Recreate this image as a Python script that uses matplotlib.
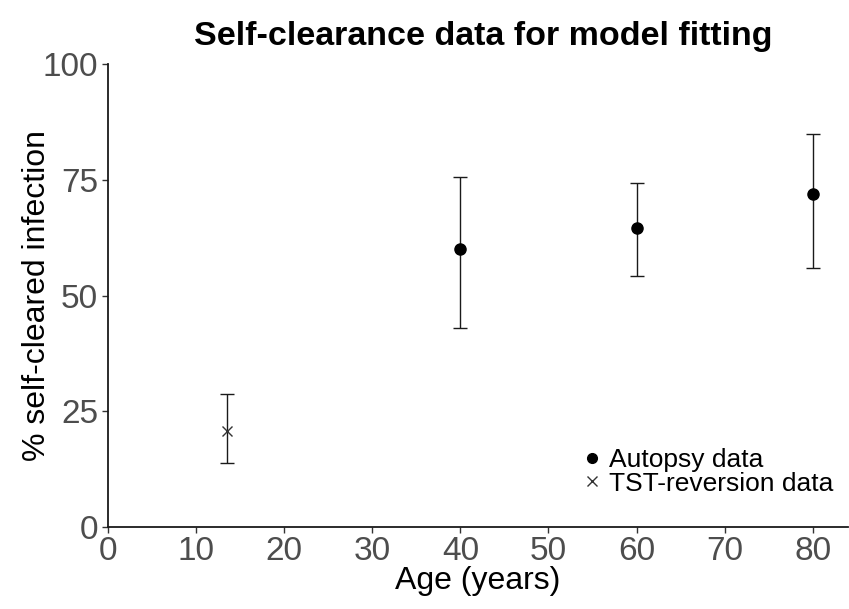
import matplotlib.pyplot as plt
from matplotlib.lines import Line2D

plt.rcParams['font.family'] = ['Liberation Sans', 'DejaVu Sans']

# autopsy data
autopsy_age = [40, 60, 80]
autopsy_pct = [60.0, 64.6, 71.9]
autopsy_lo = [43.0, 54.2, 55.9]
autopsy_hi = [75.6, 74.3, 84.9]

# TST-reversion data
tst_age = [13.5]
tst_pct = [20.7]
tst_lo = [13.8]
tst_hi = [28.7]

x_ticks = [0, 10, 20, 30, 40, 50, 60, 70, 80]
y_ticks = [0, 25, 50, 75, 100]
legend_labels = ['Autopsy data', 'TST-reversion data']

fig = plt.figure(figsize=(8.49, 6.09), dpi=100)
ax = fig.add_axes([0.1272, 0.1346, 0.8716, 0.7603])

ax.errorbar(autopsy_age, autopsy_pct,
            yerr=[[p - l for p, l in zip(autopsy_pct, autopsy_lo)],
                  [h - p for p, h in zip(autopsy_pct, autopsy_hi)]],
            fmt='o', color='black', ecolor='#1a1a1a', elinewidth=1.0,
            capsize=5, capthick=1.0, markersize=8)
ax.errorbar(tst_age, tst_pct,
            yerr=[[p - l for p, l in zip(tst_pct, tst_lo)],
                  [h - p for p, h in zip(tst_pct, tst_hi)]],
            fmt='x', color='#333333', ecolor='#1a1a1a', elinewidth=1.0,
            capsize=5, capthick=1.0, markersize=7, markeredgewidth=1.0)

ax.set_xlim(0, 84)
ax.set_ylim(0, 100)
ax.set_xticks(x_ticks)
ax.set_yticks(y_ticks)
ax.tick_params(labelsize=24, labelcolor='#4d4d4d', color='#333333',
               length=4, width=1.0)
ax.tick_params(axis='x', pad=2.5)
ax.tick_params(axis='y', pad=3)
for side in ['top', 'right']:
    ax.spines[side].set_visible(False)
for side in ['left', 'bottom']:
    ax.spines[side].set_color('#1a1a1a')
    ax.spines[side].set_linewidth(1.3)

ax.set_xlabel('Age (years)', fontsize=23)
ax.xaxis.set_label_coords(0.5, -0.084)
ax.set_ylabel('% self-cleared infection', fontsize=23)
ax.yaxis.set_label_coords(-0.076, 0.5)
ax.set_title('Self-clearance data for model fitting', fontsize=24.5,
             fontweight='bold', pad=14, x=0.507)

handles = [Line2D([], [], marker='o', ls='', color='black', markersize=7),
           Line2D([], [], marker='x', ls='', color='#333333', markersize=7,
                  markeredgewidth=1.0)]
ax.legend(handles, legend_labels, loc='center left',
          bbox_to_anchor=(0.643, 0.119), frameon=False, fontsize=19,
          handlelength=0.6, handletextpad=0.35, labelspacing=-0.03,
          borderpad=0, borderaxespad=0)

fig.savefig('out.png', dpi=100)
